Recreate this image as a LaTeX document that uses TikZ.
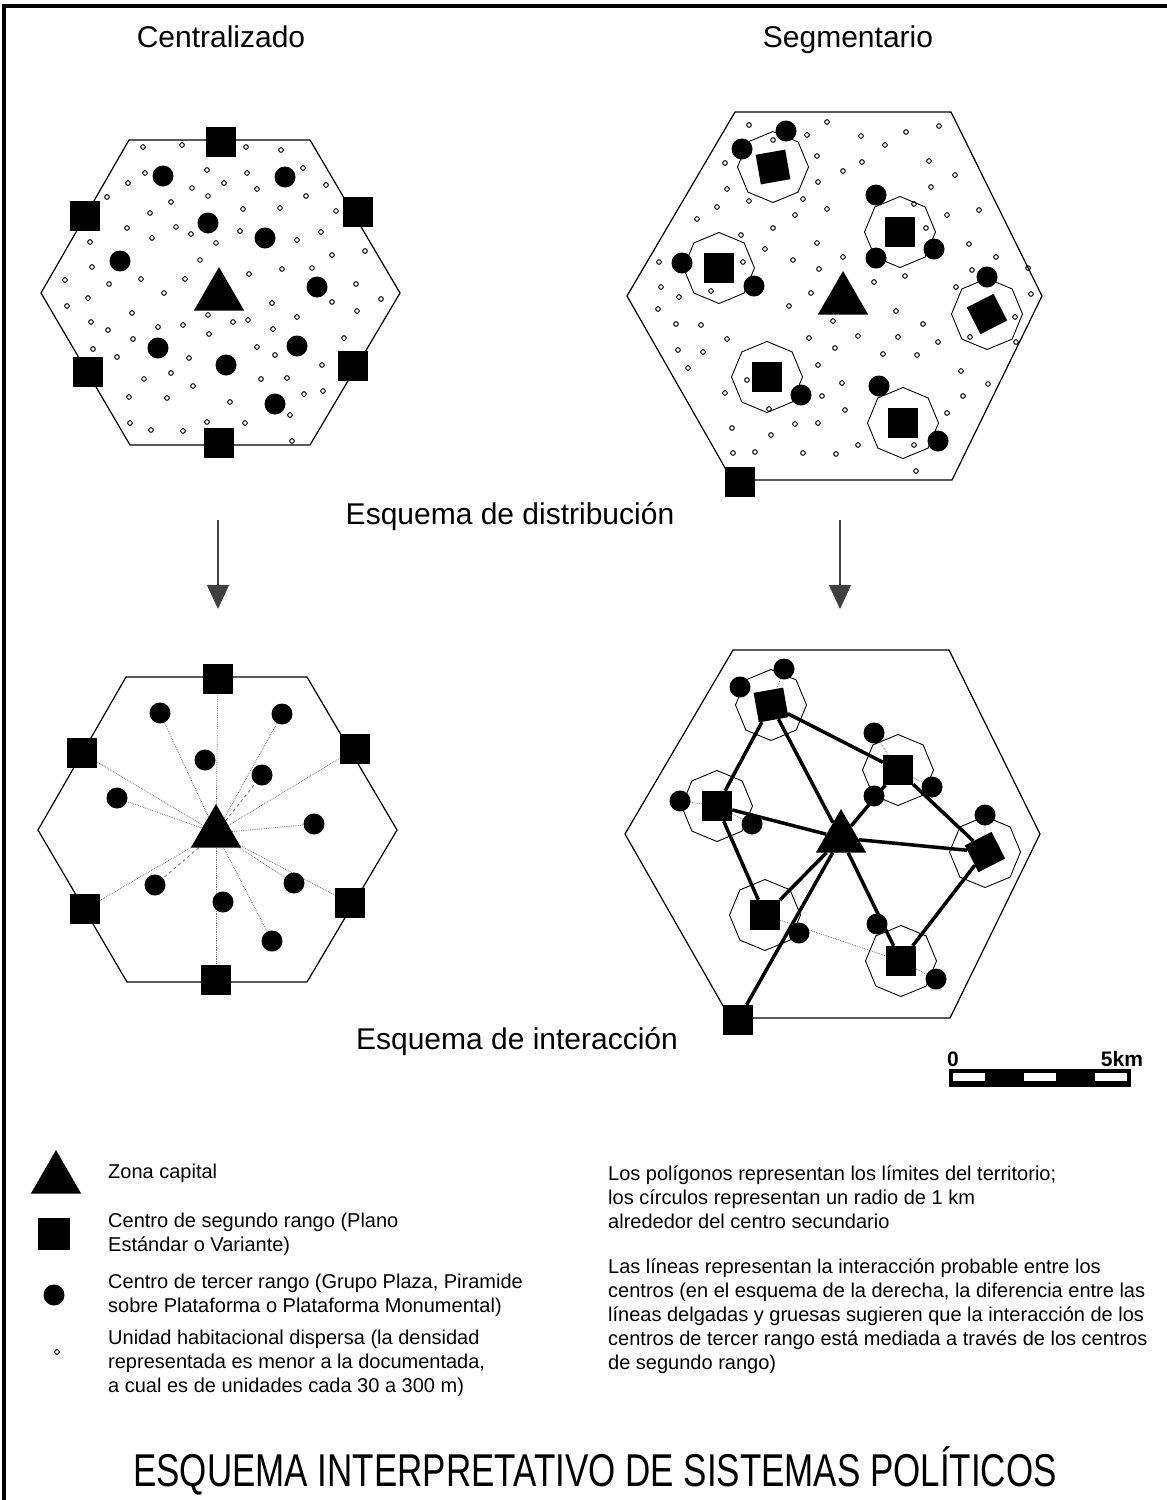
\documentclass[tikz,border=0pt]{standalone}
\usepackage{fontspec}
\setmainfont{Liberation Sans}
\newfontfamily\titlefont[FakeStretch=0.76]{Liberation Sans}
\usetikzlibrary{arrows.meta,shapes.geometric,backgrounds}
\tikzset{%
  % territory
  hex/.style={draw, line width=1.2pt, line join=miter},
  ring/.style={draw, regular polygon, regular polygon sides=8, shape border rotate=22.5,
    minimum size=71pt, inner sep=0pt, line width=0.9pt},
  % centres
  capital/.style={regular polygon, regular polygon sides=3, fill=black, minimum size=58pt, inner sep=0pt},
  second/.style={rectangle, fill=black, minimum size=30pt, inner sep=0pt},
  third/.style={circle, fill=black, minimum size=21pt, inner sep=0pt},
  house/.style={draw, line width=1pt},
  % edge styles
  rel/.style={line width=3.5pt},
  weak/.style={densely dotted, line width=0.8pt, black!55},
  weakdash/.style={dashed, line width=0.8pt, black!55},
  flow/.style={-{Triangle[width=22pt,length=24pt]}, line width=1.4pt, black!75},
  % texts
  headtext/.style={anchor=base, inner sep=0pt, font=\fontsize{30}{36}\selectfont},
  legtext/.style={anchor=west, align=left, inner sep=0pt, font=\fontsize{20}{24}\selectfont},
  scalelab/.style={anchor=base, inner sep=0pt, font=\fontsize{21}{24}\selectfont\bfseries},
  titletext/.style={anchor=base, inner sep=0pt, font=\titlefont\fontsize{46}{52}\selectfont},
}
\newcommand{\centralset}[1]{%
  % #1 = name prefix
  \draw[hex] (129,140) -- (310,140) -- (400,293) -- (310,445) -- (130,445) -- (41,293) -- cycle;
  \foreach \x/\y [count=\i] in {221/142, 85/216, 358/212, 88/372, 353/366, 219/443}
    {\node[second] (#1s\i) at (\x,\y) {};}
  \foreach \x/\y [count=\i] in {163/176, 285/177, 208/223, 265/238, 120/261,
      317/287, 158/348, 297/346, 226/365, 275/404}
    {\node[third] (#1c\i) at (\x,\y) {};}
  \node[capital] (#1t) at (219,296) {};
}
\newcommand{\segmentset}[1]{%
  % #1 = name prefix
  \draw[hex] (735,112) -- (951,112) -- (1042,296) -- (952,480) -- (732,480) -- (627,296) -- cycle;
  \foreach \x/\y [count=\i] in {773/167, 900/232, 719/268, 987/314, 767/377, 903/423}
    {\node[ring] (#1r\i) at (\x,\y) {};}
  \foreach \x/\y/\r [count=\i] in {773/167/10, 900/232/0, 719/268/0, 987/314/27,
      767/377/0, 903/423/0, 740/482/0}
    {\node[second, rotate=\r] (#1s\i) at (\x,\y) {};}
  \foreach \x/\y [count=\i] in {742/149, 786/131, 876/195, 934/249, 876/258, 682/263,
      754/286, 987/277, 801/395, 879/386, 938/441}
    {\node[third] (#1c\i) at (\x,\y) {};}
  \node[capital] (#1t) at (843,300) {};
}

\begin{document}
\begin{tikzpicture}[x=1pt, y=-1pt]
  \useasboundingbox (0,0) rectangle (1167,1500);
  \draw[line width=3.5pt] (4,1500) -- (4,6) -- (1167,6);

  % Headings
  \node[headtext] (centr) at (221,47) {Centralizado};
  \node[headtext] (segm) at (848,47) {Segmentario};
  \node[headtext] (distr) at (510,524) {Esquema de distribución};
  \node[headtext] (inter) at (517,1049) {Esquema de interacción};

  % Distribution, centralized
  \foreach \x/\y in {143/147, 182/145, 246/147, 281/150, 145/173, 128/183, 207/170, 247/173,
      303/168, 224/183, 192/188, 257/189, 326/185, 107/197, 208/196, 306/196, 171/202,
      150/213, 243/209, 280/208, 336/211, 127/228, 176/227, 191/234, 152/238, 240/231,
      216/243, 297/240, 321/232, 90/242, 332/255, 365/251, 200/260, 92/267, 282/269,
      312/268, 249/274, 65/280, 109/284, 141/279, 185/279, 356/284, 164/293, 88/298,
      67/306, 381/299, 332/302, 272/303, 357/311, 132/313, 208/315, 91/322, 108/330,
      158/327, 183/325, 233/322, 248/320, 297/317, 273/329, 209/334, 344/338, 133/339,
      93/349, 117/357, 189/358, 257/347, 275/355, 322/365, 144/379, 171/373, 193/386,
      261/379, 287/378, 323/391, 304/394, 129/397, 167/398, 230/402, 290/415, 130/423,
      151/430, 183/431, 207/422, 245/423, 292/441}
    \draw[house] (\x,\y) circle[radius=2.3];
  \centralset{a}

  % Distribution, segmentary
  \foreach \x/\y in {749/125, 827/122, 906/132, 939/126, 807/135, 773/140, 861/136, 885/145,
      817/156, 725/163, 843/171, 862/162, 929/161, 955/175, 818/182, 727/189, 931/187,
      803/199, 749/201, 717/207, 827/209, 795/215, 914/204, 947/215, 979/210, 697/219,
      773/228, 741/235, 926/228, 969/244, 765/249, 817/243, 843/257, 793/260, 659/262,
      743/262, 819/269, 996/257, 1028/268, 972/270, 874/282, 905/276, 661/287, 679/297,
      711/291, 811/293, 956/287, 1031/294, 658/309, 789/306, 896/311, 833/321, 923/324,
      676/324, 701/325, 971/309, 1015/317, 727/339, 858/336, 809/338, 898/337, 938/342,
      970/337, 1016/342, 678/350, 703/352, 835/348, 883/354, 917/355, 688/368, 818/365,
      961/371, 747/380, 842/383, 725/393, 988/384, 822/396, 963/396, 845/410, 769/409,
      947/413, 795/424, 818/423, 732/428, 771/435, 858/445, 914/445, 733/453, 755/452,
      803/453, 836/454, 916/471}
    \draw[house] (\x,\y) circle[radius=2.3];
  \segmentset{b}

  % Arrows
  \coordinate (arrLtop) at (218,520);
  \coordinate (arrLtip) at (218,609);
  \coordinate (arrRtop) at (840,520);
  \coordinate (arrRtip) at (840,609);
  \draw[flow] (arrLtop) -- (arrLtip);
  \draw[flow] (arrRtop) -- (arrRtip);

  % Interaction, centralized
  \begin{scope}[shift={(-3,537)}]
    \centralset{c}
  \end{scope}
  \begin{scope}[on background layer]
    \foreach \n in {s1,s2,s3,s4,s5,s6,c1,c2,c5,c6,c8,c10}
      \draw[weak] (ct) -- (c\n);
    \draw[weakdash] (ct) -- (cc4);
    \draw[weakdash] (ct) -- (cc7);
  \end{scope}

  % Interaction, segmentary
  \begin{scope}[shift={(-2,538)}]
    \segmentset{d}
  \end{scope}
  \begin{scope}[on background layer]
    \foreach \a/\b in {s1/s2, s1/s3, s1/t, s3/t, s3/s5, s5/t, t/s2, s2/s4, t/s4, s4/s6, t/s6, s7/t}
      \draw[rel] (d\a) -- (d\b);
    \foreach \a/\b in {s1/c2, s2/c3, s2/c4, s3/c6, s3/c7, s4/c8, s5/s6, s6/c11}
      \draw[weak] (d\a) -- (d\b);
  \end{scope}

  % Scale
  \fill (949,1069) rectangle (1131,1087);
  \foreach \a in {953,1024,1095}
    \fill[white] (\a,1073) rectangle ++(32,8);
  \node[scalelab] (km0) at (953,1066) {0};
  \node[scalelab] (km5) at (1122,1066) {5km};

  % Legend
  \node[capital] (keyt) at (56,1179) {};
  \node[legtext] (keytx) at (108,1173) {Zona capital};
  \node[second, minimum size=32pt] (keys) at (54,1234) {};
  \node[legtext] (keysx) at (108,1234) {Centro de segundo rango (Plano\\Estándar o Variante)};
  \node[third] (keyc) at (54,1295) {};
  \node[legtext] (keycx) at (108,1295) {Centro de tercer rango (Grupo Plaza, Piramide\\sobre Plataforma o Plataforma Monumental)};
  \draw[house] (57,1352) circle[radius=2.3];
  \node[legtext] (keyhx) at (108,1363) {Unidad habitacional dispersa (la densidad\\representada es menor a la documentada,\\a cual es de unidades cada 30 a 300 m)};

  \node[legtext] (notepoly) at (608,1197) {Los polígonos representan los límites del territorio;\\los círculos representan un radio de 1 km\\alrededor del centro secundario};
  \node[legtext] (noteline) at (608,1316) {Las líneas representan la interacción probable entre los\\centros (en el esquema de la derecha, la diferencia entre las\\líneas delgadas y gruesas sugieren que la interacción de los\\centros de tercer rango está mediada a través de los centros\\de segundo rango)};

  % Title
  \node[titletext] (title) at (595,1486) {ESQUEMA INTERPRETATIVO DE SISTEMAS POLÍTICOS};
\end{tikzpicture}
\end{document}
